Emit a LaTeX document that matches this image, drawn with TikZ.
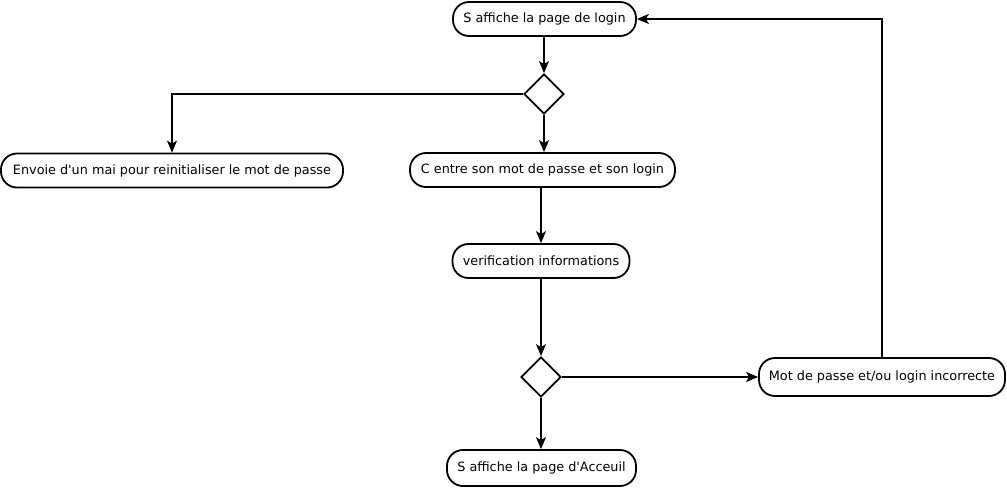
\documentclass[tikz,border=0pt]{standalone}
\usepackage{fontspec}
\setmainfont{DejaVu Sans}
\usetikzlibrary{arrows.meta,shapes.geometric}
\begin{document}
\begin{tikzpicture}[x=1pt,y=-1pt,
  act/.style={draw,line width=1.8pt,rounded corners=16pt,minimum height=34pt,inner sep=0pt,font=\fontsize{12.8}{14}\selectfont},
  dec/.style={draw,line width=1.8pt,diamond,minimum width=40pt,minimum height=40pt,inner sep=0pt},
  conn/.style={line width=1.3pt,-{Stealth[length=12pt,width=10pt,inset=3pt]}}]
\useasboundingbox (0,0) rectangle (1007,488);
\node[act,minimum width=183pt] (login) at (544.5,19) {S affiche la page de login};
\node[dec] (d1) at (544,94) {};
\node[act,minimum width=342pt] (mail) at (172,170.5) {Envoie d\textquotesingle un mai pour reinitialiser le mot de passe};
\node[act,minimum width=265pt] (entre) at (542.5,170) {C entre son mot de passe et son login};
\node[act,minimum width=177pt] (verif) at (541,261) {verification informations};
\node[dec] (d2) at (541,377) {};
\node[act,minimum width=246pt,minimum height=38pt] (err) at (882,377) {Mot de passe et/ou login incorrecte};
\node[act,minimum width=189pt,minimum height=36pt] (acc) at (541.5,468) {S affiche la page d\textquotesingle Acceuil};
\draw[conn] (login.south -| d1) -- (d1.north);
\draw[conn] (d1.west) -| (mail.north);
\draw[conn] (d1.south) -- (entre.north -| d1.south);
\draw[conn] (entre.south -| verif.north) -- (verif.north);
\draw[conn] (verif.south -| d2.north) -- (d2.north);
\draw[conn] (d2.east) -- (err.west);
\draw[conn] (d2.south) -- (acc.north -| d2.south);
\draw[conn] (err.north) |- (login.east);
\end{tikzpicture}
\end{document}
